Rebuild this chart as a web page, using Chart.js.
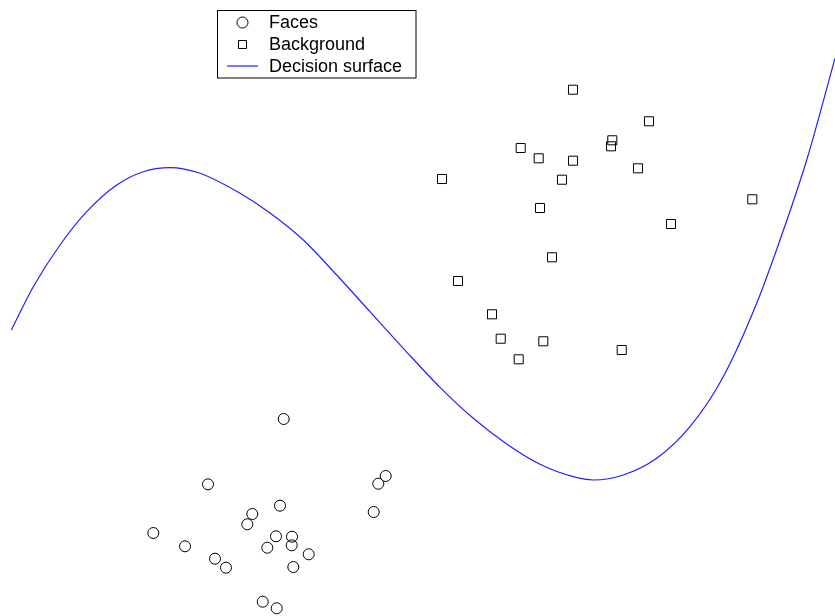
<!DOCTYPE html>
<html>
<head>
<meta charset="utf-8">
<script src="https://cdn.jsdelivr.net/npm/chart.js@4/dist/chart.umd.min.js"></script>
<style>
  html, body { margin: 0; padding: 0; background: #fff; }
  #wrap { width: 835px; height: 616px; position: relative; }
</style>
</head>
<body>
<div id="wrap"><canvas id="c"></canvas></div>
<script>
// Face samples (feature space, x to the right, y downward)
const facesX = [283.7, 208, 280, 252.3, 247.3, 153.3, 185, 276, 292, 267.3,
                291.7, 308.7, 215, 226, 293.3, 262.7, 276.7, 385.7, 378.3, 373.7];
const facesY = [419, 484.3, 505.7, 514, 524.3, 533, 546.3, 536.3, 536.7, 547.7,
                545.3, 554.3, 558.7, 567.7, 567, 601.7, 608.3, 476, 483.7, 512];

// Background samples
const backgroundX = [573, 649, 612.3, 611, 520.7, 538.7, 573, 638, 442, 562,
                     752.3, 540, 671, 552, 458, 492, 500.7, 543.3, 621.7, 518.7];
const backgroundY = [89.7, 121.3, 140.3, 146.3, 148, 158.3, 160.7, 168.3, 179, 179.7,
                     199.3, 208, 224, 257.3, 281, 314.3, 338.7, 341.3, 350, 359.3];

// Decision surface samples
const surfaceX = [11.3, 33.3, 60, 86.7, 116.7, 143.3, 170, 200, 240, 270,
                  303.3, 336.7, 370, 403.3, 440, 473.3, 506.7, 540, 573.3, 593.3,
                  623.3, 656.7, 690, 723.3, 756.7, 780, 806.7, 835];
const surfaceY = [330, 286.7, 245, 211.7, 185, 171.7, 167.7, 173.3, 193.3, 213,
                  240, 275, 311.7, 348.3, 387.3, 418.3, 444, 464.3, 476.7, 480,
                  475, 458.3, 426.7, 376.7, 303.3, 240, 160, 58.3];

const labels = ['Faces', 'Background', 'Decision surface'];

const zip = (xs, ys) => xs.map((x, i) => ({ x: x, y: ys[i] }));

// Boxed legend in the upper left, drawn from the dataset styles
const boxLegend = {
  id: 'boxLegend',
  afterDraw(chart) {
    const ctx = chart.ctx;
    const left = 217, top = 10, right = 416.5, bottom = 78.5;
    ctx.save();
    ctx.fillStyle = '#fff';
    ctx.fillRect(left, top, right - left, bottom - top);
    ctx.strokeStyle = '#000';
    ctx.lineWidth = 1;
    ctx.strokeRect(left + 0.5, top + 0.5, right - left - 1, bottom - top - 1);
    const rows = [22.5, 44.5, 66];
    ctx.font = '18px "Liberation Sans", Arial, sans-serif';
    ctx.textBaseline = 'middle';
    ctx.textAlign = 'left';
    chart.data.datasets.forEach((ds, i) => {
      const y = rows[i];
      ctx.beginPath();
      if (ds.showLine) {
        ctx.strokeStyle = ds.borderColor;
        ctx.lineWidth = ds.borderWidth;
        ctx.moveTo(227, y);
        ctx.lineTo(258, y);
      } else {
        ctx.strokeStyle = ds.pointBorderColor;
        ctx.lineWidth = ds.pointBorderWidth;
        if (ds.pointStyle === 'circle') {
          ctx.arc(242.5, y, 5.5, 0, Math.PI * 2);
        } else {
          ctx.rect(238.5, y - 4, 8, 8);
        }
      }
      ctx.stroke();
      ctx.fillStyle = '#000';
      ctx.fillText(ds.label, 269, y + 1);
    });
    ctx.restore();
  }
};

new Chart(document.getElementById('c'), {
  type: 'scatter',
  data: {
    datasets: [
      {
        label: labels[0],
        data: zip(facesX, facesY),
        pointStyle: 'circle',
        pointRadius: 5.5,
        pointHoverRadius: 5.5,
        pointBorderWidth: 1,
        pointBorderColor: '#000',
        pointBackgroundColor: 'rgba(0,0,0,0)',
        showLine: false
      },
      {
        label: labels[1],
        data: zip(backgroundX, backgroundY),
        pointStyle: 'rect',
        pointRadius: 6.4,
        pointHoverRadius: 6.4,
        pointBorderWidth: 1,
        pointBorderColor: '#000',
        pointBackgroundColor: 'rgba(0,0,0,0)',
        showLine: false
      },
      {
        label: labels[2],
        data: zip(surfaceX, surfaceY),
        showLine: true,
        borderColor: '#2020ff',
        borderWidth: 1.2,
        pointRadius: 0,
        pointHoverRadius: 0,
        cubicInterpolationMode: 'monotone',
        fill: false
      }
    ]
  },
  options: {
    responsive: true,
    maintainAspectRatio: false,
    animation: false,
    events: [],
    layout: { padding: 0, autoPadding: false },
    clip: false,
    plugins: {
      legend: { display: false },
      tooltip: { enabled: false }
    },
    scales: {
      x: { type: 'linear', min: 0, max: 835, display: false },
      y: { type: 'linear', min: 0, max: 616, reverse: true, display: false }
    }
  },
  plugins: [boxLegend]
});
</script>
</body>
</html>
